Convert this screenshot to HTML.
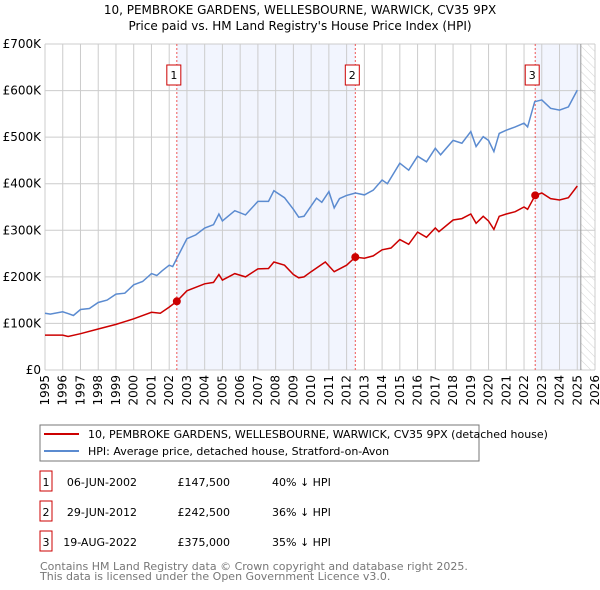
<!DOCTYPE html>
<html><head><meta charset="utf-8"><style>
body{margin:0;background:#fff;font-family:"DejaVu Sans","Liberation Sans",sans-serif;}
#wrap{position:relative;width:600px;height:590px;overflow:hidden}
</style></head><body><div id="wrap">
<svg id="svg" width="600" height="590" xmlns="http://www.w3.org/2000/svg" font-family="DejaVu Sans, Liberation Sans, sans-serif">
<defs><pattern id="hatch" width="6" height="6" patternUnits="userSpaceOnUse" patternTransform="rotate(-45)"><line x1="0" y1="0" x2="0" y2="6" stroke="#d4d4d4" stroke-width="1"/></pattern></defs>
<text x="300" y="14" text-anchor="middle" font-size="12" fill="#000">10, PEMBROKE GARDENS, WELLESBOURNE, WARWICK, CV35 9PX</text>
<text x="300" y="30" text-anchor="middle" font-size="12" fill="#000">Price paid vs. HM Land Registry's House Price Index (HPI)</text>
<g id="plot"></g>
<rect x="40" y="425" width="439" height="36" fill="none" stroke="#777"/>
<line x1="44" y1="434" x2="79" y2="434" stroke="#cc0000" stroke-width="2"/>
<text x="88" y="438" font-size="11">10, PEMBROKE GARDENS, WELLESBOURNE, WARWICK, CV35 9PX (detached house)</text>
<line x1="44" y1="451" x2="79" y2="451" stroke="#5b8bd0" stroke-width="2"/>
<text x="88" y="455" font-size="11">HPI: Average price, detached house, Stratford-on-Avon</text>
<g id="table" font-size="11"></g>
<text x="40" y="570" font-size="11" fill="#777">Contains HM Land Registry data © Crown copyright and database right 2025.</text>
<text x="40" y="580" font-size="11" fill="#777">This data is licensed under the Open Government Licence v3.0.</text>
</svg></div>
<script>
const hpiYears=[1995,1995.3,1996,1996.3,1996.6,1997,1997.5,1998,1998.5,1999,1999.5,2000,2000.5,2001,2001.3,2001.6,2002,2002.2,2002.5,2003,2003.5,2004,2004.5,2004.8,2005,2005.7,2006.3,2007,2007.6,2007.9,2008.5,2009,2009.3,2009.6,2010.3,2010.6,2011,2011.3,2011.6,2012,2012.5,2013,2013.5,2014,2014.3,2015,2015.5,2016,2016.5,2017,2017.3,2018,2018.5,2019,2019.3,2019.7,2020,2020.3,2020.6,2021,2021.5,2022,2022.2,2022.6,2023,2023.5,2024,2024.5,2025];
const hpiValues=[122,120,125,121,117,130,132,145,150,163,165,183,190,207,203,213,225,222,245,282,290,305,312,335,320,342,333,362,362,385,370,345,328,330,369,360,383,348,368,375,380,376,386,408,400,444,429,459,447,476,462,493,487,512,480,501,493,469,508,515,522,530,522,576,580,562,558,565,601];
const ppYears=[1995,1996,1996.3,1997,1998,1999,2000,2001,2001.5,2002,2002.43,2003,2004,2004.5,2004.8,2005,2005.7,2006.3,2007,2007.6,2007.9,2008.5,2009,2009.3,2009.6,2010,2010.8,2011.3,2012,2012.49,2013,2013.5,2014,2014.5,2015,2015.5,2016,2016.5,2017,2017.2,2018,2018.5,2019,2019.3,2019.7,2020,2020.3,2020.6,2021,2021.5,2022,2022.2,2022.63,2023,2023.5,2024,2024.5,2025];
const ppValues=[75,75,72,78,88,98,110,124,122,135,147.5,170,185,188,205,193,207,200,217,218,232,225,205,198,200,211,232,211,225,242.5,240,245,258,262,280,270,296,285,305,297,322,325,335,315,330,320,302,330,335,340,350,345,375,380,368,365,370,395];
const saleYears=[2002.43,2012.49,2022.63];
const saleValues=[147.5,242.5,375];
const saleLabels=["1","2","3"];
const saleDates=["06-JUN-2002","29-JUN-2012","19-AUG-2022"];
const salePrices=["£147,500","£242,500","£375,000"];
const saleDiffs=["40% ↓ HPI","36% ↓ HPI","35% ↓ HPI"];
const yTicks=[0,100,200,300,400,500,600,700];
const yTickLabels=["£0","£100K","£200K","£300K","£400K","£500K","£600K","£700K"];
const xTicks=[1995,1996,1997,1998,1999,2000,2001,2002,2003,2004,2005,2006,2007,2008,2009,2010,2011,2012,2013,2014,2015,2016,2017,2018,2019,2020,2021,2022,2023,2024,2025,2026];

const X0=45,X1=595,Y0=370,Y1=44;
const x=v=>X0+(v-1995)/31*(X1-X0);
const y=v=>Y0-v/700*(Y0-Y1);
const NS="http://www.w3.org/2000/svg";
const plot=document.getElementById('plot');
function mk(tag,attrs,parent){const e=document.createElementNS(NS,tag);for(const k in attrs)e.setAttribute(k,attrs[k]);(parent||plot).appendChild(e);return e;}

let r;
r=mk('rect',{x:x(saleYears[0]),y:Y1,width:x(saleYears[1])-x(saleYears[0]),height:Y0-Y1,fill:'#f2f5fe'});


r=mk('rect',{x:x(saleYears[2]),y:Y1,width:x(2025.2)-x(saleYears[2]),height:Y0-Y1,fill:'#f2f5fe'});


r=mk('rect',{x:x(2025.2),y:Y1,width:X1-x(2025.2),height:Y0-Y1,fill:'url(#hatch)'});



xTicks.forEach(t=>{
 const l=mk('line',{x1:x(t),x2:x(t),y1:Y1,y2:Y0,stroke:'#ccc','stroke-width':1});
 
 
 const tx=mk('text',{x:0,y:0,'font-size':12,'text-anchor':'end',transform:`translate(${x(t)+4},${Y0+5}) rotate(-90)`});
 tx.textContent=t;
 
 
});
yTicks.forEach((t,i)=>{
 const l=mk('line',{x1:X0,x2:X1,y1:y(t),y2:y(t),stroke:'#ccc','stroke-width':1});
 
 
 const tx=mk('text',{x:X0-4,y:y(t)+4,'font-size':12,'text-anchor':'end'});
 tx.textContent=yTickLabels[i];
 
 
});
r=mk('line',{x1:x(2025.2),x2:x(2025.2),y1:Y1,y2:Y0,stroke:'#999','stroke-width':1});



saleYears.forEach((s,i)=>{
 const l=mk('line',{x1:x(s),x2:x(s),y1:Y1,y2:Y0,stroke:'#e55','stroke-width':1,'stroke-dasharray':'2,2'});
 
 
 const b=mk('rect',{x:x(s)-10,y:65,width:14,height:20,fill:'#fff',stroke:'#c00'});
 
 
 const t=mk('text',{x:x(s)-3,y:79,'font-size':11,'text-anchor':'middle'});
 t.textContent=saleLabels[i];
 
 
});

function path(xs,vs){return xs.map((v,i)=>(i?'L':'M')+x(v).toFixed(1)+','+y(vs[i]).toFixed(1)).join('');}
r=mk('path',{d:path(hpiYears,hpiValues),fill:'none',stroke:'#5b8bd0','stroke-width':1.5});


r=mk('path',{d:path(ppYears,ppValues),fill:'none',stroke:'#cc0000','stroke-width':1.5});


saleYears.forEach((s,i)=>{
 const c=mk('circle',{cx:x(s),cy:y(saleValues[i]),r:4,fill:'#cc0000'});
 
 
});

const tb=document.getElementById('table');
saleYears.forEach((s,i)=>{
 const yy=483+i*30;
 const b=mk('rect',{x:40,y:yy-12,width:12,height:20,fill:'#fff',stroke:'#c00'},tb);
 
 
 const cells=[[46,saleLabels[i],'middle'],[137,saleDates[i],'end'],[230,salePrices[i],'end'],[272,saleDiffs[i],'start']];
 cells.forEach(c=>{
  const t=mk('text',{x:c[0],y:yy+3,'text-anchor':c[2]},tb);
  t.textContent=c[1];
  
  
 });
});
</script></body></html>
